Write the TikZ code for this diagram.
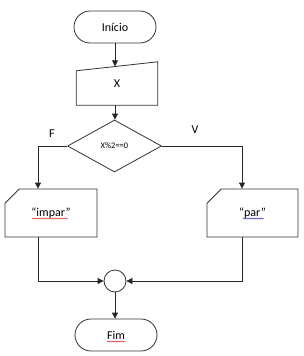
\documentclass[tikz,border=0pt]{standalone}
\usepackage{fontspec}
\setmainfont{Carlito}
\usetikzlibrary{calc, arrows.meta, shapes.geometric, shapes.misc, decorations.pathmorphing}

\begin{document}
\begin{tikzpicture}[
			x=1pt, y=-1pt,
			>=Triangle,
			term/.style={
				draw=black!80, rounded corners=16pt, line width=0.8pt,
				minimum width=82pt, minimum height=32pt,
				font=\fontsize{12}{14}\selectfont
			},
			card/.style={
				draw=black!80, line width=0.8pt, chamfered rectangle,
				chamfered rectangle corners=north west,
				chamfered rectangle xsep=10pt, chamfered rectangle ysep=9pt,
				minimum width=92pt, minimum height=48pt, inner sep=0pt,
				font=\fontsize{12}{14}\selectfont
			},
			arr/.style={-{Triangle[length=6pt, width=6pt]}, line width=0.8pt, color=black!85},
			wave/.style={decorate, decoration={snake, amplitude=0.6pt, segment length=2.5pt}, line width=0.4pt},
			]
			\useasboundingbox (0,0) rectangle (303,356);
			
			% ── Start / input ────────────────────────────────────────────────
			\node[term] (ini) at (115, 27) {Início};
			
			\node[minimum width=81pt, minimum height=43pt, inner sep=0pt,
				font=\fontsize{12}{14}\selectfont] (inp) at (117, 83.5) {X};
			\draw[line width=0.8pt, black!80] (inp.south west) -- ([yshift=-9pt]inp.north west)
				-- (inp.north east) -- (inp.south east) -- cycle;
			
			\draw[arr] (ini.south) -- ([yshift=-4.5pt]ini.south |- inp.north);
			
			% ── Decision ─────────────────────────────────────────────────────
			\node[diamond, draw=black!80, line width=0.8pt, aspect=1.8,
				minimum width=94pt, minimum height=52pt, inner sep=0pt,
				font=\fontsize{8.5}{10}\selectfont] (dec) at (114.5, 146) {X\%2==0};
			
			\draw[arr] (ini.south |- inp.south) -- (ini.south |- dec.north);
			
			\node[font=\fontsize{12}{14}\selectfont] (lblF) at (52, 134) {F};
			\node[font=\fontsize{12}{14}\selectfont] (lblV) at (195, 130) {V};
			
			% ── Outputs ──────────────────────────────────────────────────────
			\node[card] (imp) at (51, 213) {“impar”};
			\node[card, minimum width=91pt] (par) at (252.5, 213) {“par”};
			
			\draw[arr] (dec.west) -| ([xshift=-13pt]imp.north);
			\draw[arr] (dec.east) -| ([xshift=-10.5pt]par.north);
			
			\draw[wave, red!80!black] (32, 218.5) -- (68, 218.5);
			\draw[wave, blue!70!black] (243, 218.5) -- (264, 218.5);
			
			% ── Join / end ───────────────────────────────────────────────────
			\node[circle, draw=black!80, line width=0.8pt, minimum size=22pt, inner sep=0pt] (jn) at (115, 281) {};
			
			\draw[arr] ([xshift=-13pt]imp.south) |- (jn.west);
			\draw[arr] ([xshift=-10.5pt]par.south) |- (jn.east);
			
			\node[term] (fim) at (116, 335) {Fim};
			\draw[arr] (jn.south) -- (jn.south |- fim.north);
			
			\draw[wave, red!80!black] (107, 341.5) -- (126, 341.5);
			
		\end{tikzpicture}
\end{document}
